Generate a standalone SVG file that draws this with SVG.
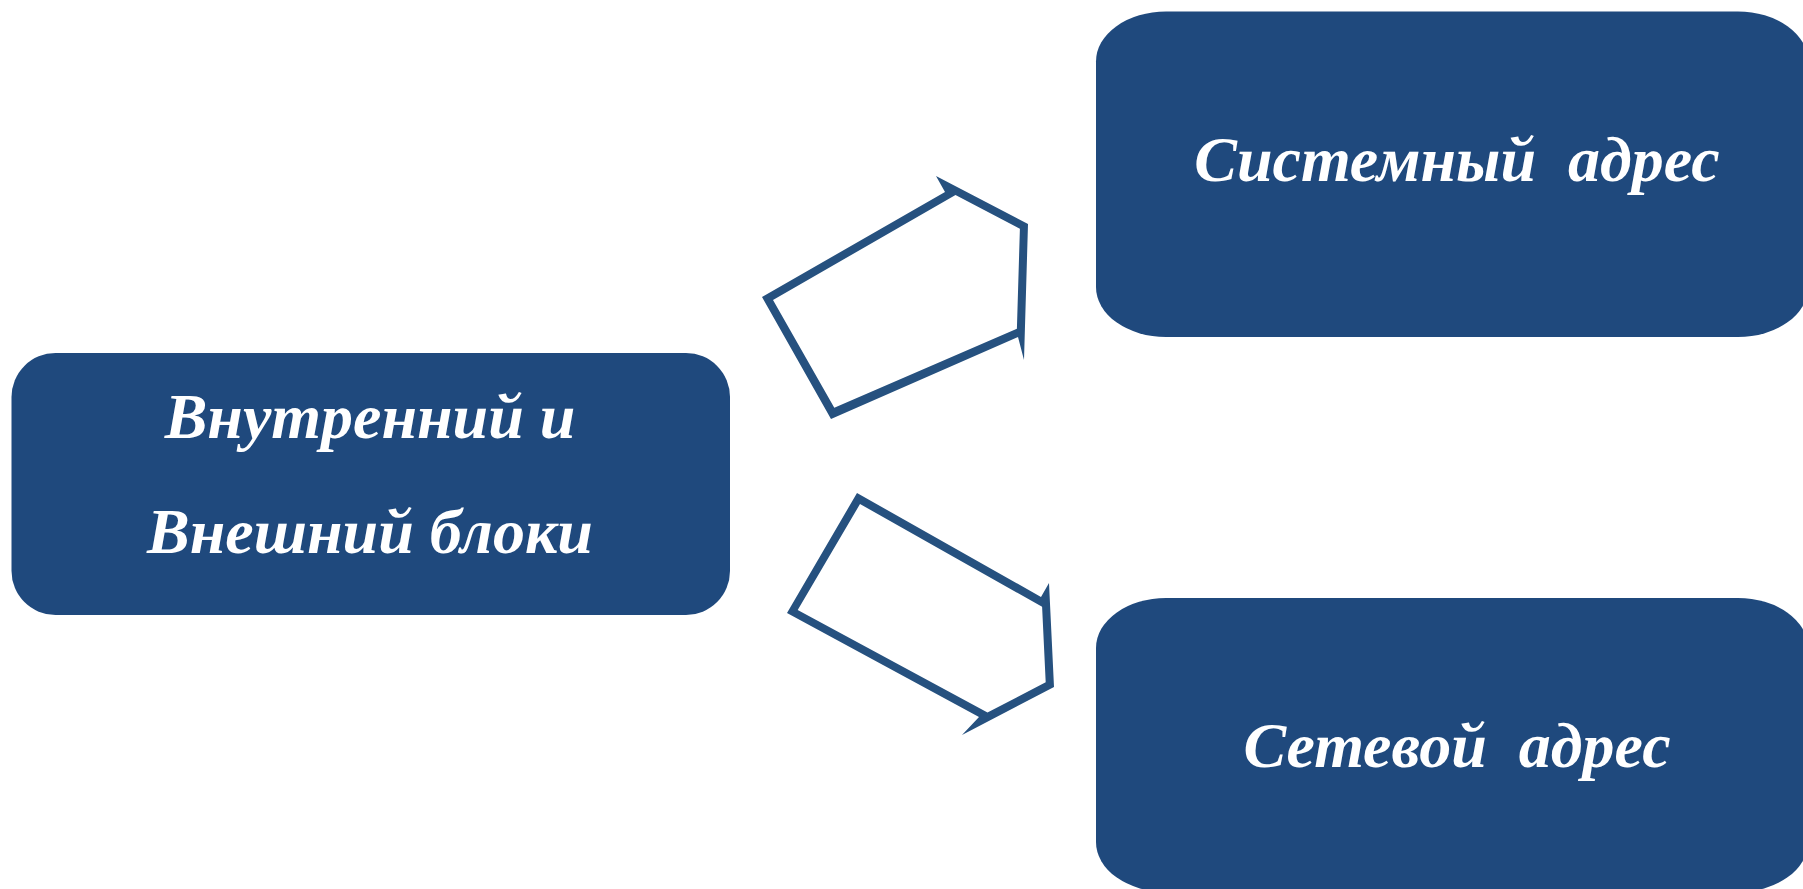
<svg xmlns="http://www.w3.org/2000/svg" width="1803" height="889" viewBox="0 0 1803 889">
  <style>
    .box { fill: #1F497D; }
    .label { fill: #FFFFFF; font-family: "Liberation Serif", "Times New Roman", serif; font-style: italic; font-weight: bold; font-size: 64px; text-anchor: middle; }
    .arrow { fill: #26517F; fill-rule: evenodd; }
  </style>
  <rect width="1803" height="889" fill="#FFFFFF"/>

  <g id="node-blocks">
    <rect class="box" x="11.5" y="353" width="718.5" height="262" rx="44" ry="44"/>
    <text class="label" x="370" y="438">Внутренний и</text>
    <text class="label" x="370" y="553">Внешний блоки</text>
  </g>

  <g id="node-system-address">
    <rect class="box" x="1096" y="11.5" width="712" height="325.5" rx="70" ry="50"/>
    <text class="label" x="1457" y="181" xml:space="preserve">Системный  адрес</text>
  </g>

  <g id="node-network-address">
    <rect class="box" x="1096" y="598" width="712" height="294" rx="70" ry="50"/>
    <text class="label" x="1457" y="767" xml:space="preserve">Сетевой  адрес</text>
  </g>

  <g id="connectors">
    <path class="arrow" d="M762,297 L945,192 L936,176 L1028,224 L1024,360 L1018,337 L831,419 Z
             M773,300 L955.5,195 L1019.9,228.8 L1016.9,328.7 L834.3,407.8 Z"/>
    <path class="arrow" d="M857,493 L1041,597 L1049,583 L1054,687 L962,735 L979,717 L787,613 Z
             M860,504 L1042.1,606.8 L1045.7,682.2 L987.5,712.6 L797.7,610 Z"/>
  </g>
</svg>
